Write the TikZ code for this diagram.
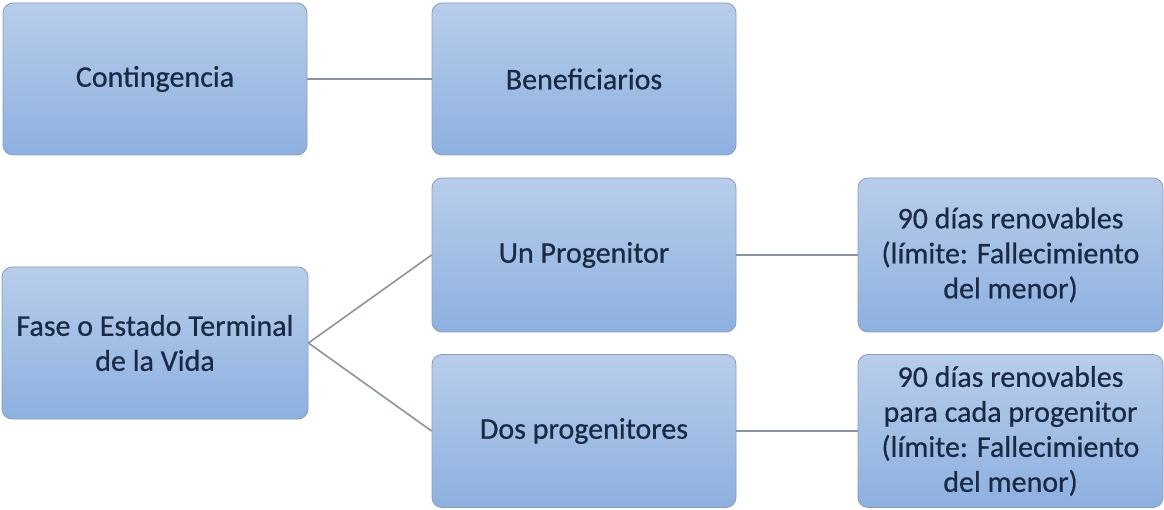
\documentclass[tikz,border=0pt]{standalone}
\usepackage{fontspec}
\setmainfont{Carlito}
\newfontfamily\boxfont{Carlito}[FakeBold=0.6]
\definecolor{boxtop}{HTML}{B8CDEA}
\definecolor{boxbot}{HTML}{8DB0E0}
\definecolor{boxline}{HTML}{8A9DB8}
\definecolor{txt}{HTML}{1A2A46}
\definecolor{conn}{HTML}{8A94A0}
\tikzset{
  blk/.style={draw=boxline, line width=0.8pt, rounded corners=10pt,
    top color=boxtop, bottom color=boxbot, minimum width=304pt, minimum height=152pt,
    text=txt, font=\boxfont\fontsize{30}{35}\selectfont, align=center, inner sep=4pt},
  link/.style={draw=conn, line width=1.6pt}
}
\begin{document}
\begin{tikzpicture}[x=1pt,y=-1pt]
\useasboundingbox (0,0) rectangle (1164,510);
\node[blk] (cont) at (155,79) {Contingencia};
\node[blk] (ben) at (584,79) {Beneficiarios};
\node[blk, minimum width=306pt] (fase) at (155,343) {Fase o Estado Terminal\\de la Vida};
\node[blk, minimum height=154pt] (uno) at (584,255) {Un Progenitor};
\node[blk, minimum height=153pt] (dos) at (584,431) {Dos progenitores};
\node[blk, minimum width=305pt, minimum height=154pt] (r1) at (1010.5,255) {90 días renovables\\(límite: Fallecimiento\\del menor)};
\node[blk, minimum width=305pt, minimum height=153pt] (r2) at (1010.5,431) {90 días renovables\\para cada progenitor\\(límite: Fallecimiento\\del menor)};
\draw[link] (cont.east) -- (ben.west);
\draw[link] (fase.east) -- (uno.west);
\draw[link] (fase.east) -- (dos.west);
\draw[link] (uno.east) -- (r1.west);
\draw[link] (dos.east) -- (r2.west);
\end{tikzpicture}
\end{document}
